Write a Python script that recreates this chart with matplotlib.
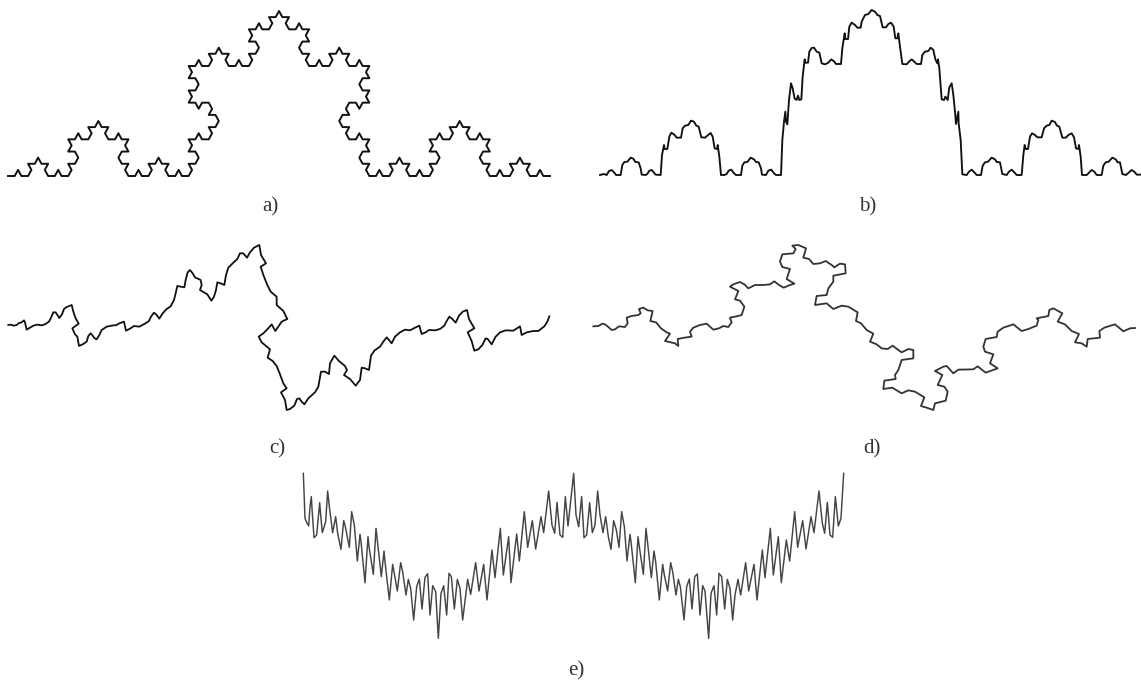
import matplotlib
matplotlib.use("Agg")
import matplotlib.pyplot as plt

W, H = 1141, 681

# curve a, triangular grid units
a_x = [0,2,3,4,6,7,6,8,9,10,12,11,12,14,15,16,18,
       19,18,20,21,20,18,19,18,20,21,22,24,25,24,26,27,
       28,30,29,30,32,33,34,36,35,36,34,33,34,36,35,36,
       38,39,40,42,43,42,44,45,46,48,47,48,50,51,52,54,
       55,54,56,57,56,54,55,54,56,57,58,60,61,60,62,63,
       62,60,61,60,58,57,56,54,55,54,56,57,56,54,55,54,
       56,57,58,60,61,60,62,63,64,66,65,66,68,69,70,72,
       73,72,74,75,74,72,73,72,74,75,76,78,79,78,80,81,
       82,84,83,84,86,87,88,90,89,90,88,87,88,90,89,90,
       92,93,94,96,97,96,98,99,100,102,101,102,104,105,106,108,
       107,108,106,105,106,108,107,108,106,105,104,102,101,102,100,99,
       100,102,101,102,104,105,106,108,107,108,106,105,106,108,107,108,
       110,111,112,114,115,114,116,117,118,120,119,120,122,123,124,126,
       127,126,128,129,128,126,127,126,128,129,130,132,133,132,134,135,
       136,138,137,138,140,141,142,144,143,144,142,141,142,144,143,144,
       146,147,148,150,151,150,152,153,154,156,155,156,158,159,160,162]
a_y = [0,0,1,0,0,1,2,2,3,2,2,1,0,0,1,0,0,
       1,2,2,3,4,4,5,6,6,7,6,6,7,8,8,9,
       8,8,7,6,6,7,6,6,5,4,4,3,2,2,1,0,
       0,1,0,0,1,2,2,3,2,2,1,0,0,1,0,0,
       1,2,2,3,4,4,5,6,6,7,6,6,7,8,8,9,
       10,10,11,12,12,11,12,12,13,14,14,15,16,16,17,18,
       18,19,18,18,19,20,20,21,20,20,19,18,18,19,18,18,
       19,20,20,21,22,22,23,24,24,25,24,24,25,26,26,27,
       26,26,25,24,24,25,24,24,23,22,22,21,20,20,19,18,
       18,19,18,18,19,20,20,21,20,20,19,18,18,19,18,18,
       17,16,16,15,14,14,13,12,12,11,12,12,11,10,10,9,
       8,8,7,6,6,7,6,6,5,4,4,3,2,2,1,0,
       0,1,0,0,1,2,2,3,2,2,1,0,0,1,0,0,
       1,2,2,3,4,4,5,6,6,7,6,6,7,8,8,9,
       8,8,7,6,6,7,6,6,5,4,4,3,2,2,1,0,
       0,1,0,0,1,2,2,3,2,2,1,0,0,1,0,0]

# curve b
b_x = [1800,1812,1820,1827,1835,1843,1848,1862,1867,1873,1882,1892,1900,1906,1916,1922,1925,1937,1942,1948,
       1955,1962,1967,1982,1986,1992,1994,2002,2008,2014,2024,2030,2043,2048,2055,2065,2073,2082,2088,2096,
       2104,2115,2122,2132,2138,2144,2152,2153,2158,2163,2173,2180,2186,2194,2202,2208,2223,2227,2233,2242,
       2252,2262,2268,2276,2283,2286,2298,2305,2314,2322,2328,2343,2347,2352,2356,2358,2362,2367,2373,2378,
       2384,2390,2394,2398,2404,2408,2414,2416,2424,2428,2435,2442,2450,2458,2465,2475,2485,2494,2503,2508,
       2523,2527,2534,2536,2544,2548,2555,2565,2572,2582,
       2585,2595,2605,2615,2625,2632,2640,2648,2658,2665,2673,2681,2686,2692,2695,2700,2707,2720,2727,2735,
       2744,2750,2763,2767,2775,2785,2792,2800,2806,2812,2814,2818,2825,2832,2836,2843,2848,2855,2860,2865,
       2868,2875,2876,2882,2887,2900,2907,2915,2923,2930,2943,2948,2955,2964,2975,2985,2990,3000,3007,3020,
       3027,3035,3043,3050,3065,3070,3074,3077,3084,3090,3096,3105,3112,3125,3132,3140,3148,3155,3165,3170,
       3178,3187,3198,3205,3215,3222,3228,3235,3237,3242,3246,3260,3267,3275,3283,3290,3305,3310,3317,3326,
       3337,3347,3353,3360,3367,3378,3386,3395,3405,3410,3422]
b_y = [525,522,525,513,510,518,525,525,495,486,485,473,476,486,487,505,524,525,522,512,
       510,518,524,525,465,435,447,447,410,398,405,413,413,385,377,375,362,365,376,380,
       412,413,407,399,410,445,447,435,470,525,525,522,512,509,520,525,525,497,487,486,
       473,478,486,487,505,524,525,512,509,520,525,525,420,365,335,365,373,300,250,265,
       296,300,287,300,298,230,178,188,188,155,144,143,155,158,190,193,188,178,185,192,
       192,145,100,117,117,80,68,75,83,83,
       65,45,42,30,35,45,48,82,82,72,68,80,115,115,100,140,192,193,185,178,
       186,192,192,165,155,153,143,150,178,190,178,205,298,300,290,300,262,250,285,335,
       372,335,370,420,523,525,515,509,517,525,525,497,487,485,473,478,486,487,522,525,
       515,509,517,525,525,465,435,447,447,410,400,405,412,412,385,377,375,362,366,376,
       380,413,413,405,400,412,445,447,435,470,525,525,518,510,515,525,525,497,487,485,
       473,478,487,487,522,525,518,510,517,524,524]

# curve c
c_x = [25,33,41,50,57,65,72,75,80,90,100,112,125,135,147,153,160,167,172,178,186,192,200,208,215,220,227,236,228,217,
       225,232,237,248,260,265,272,278,284,290,298,305,320,335,350,358,372,378,390,402,418,435,447,453,462,470,478,488,500,512,
       522,527,532,543,553,557,563,570,578,585,602,605,600,612,622,634,642,648,652,662,673,678,685,700,712,720,730,741,750,762,
       778,783,798,782,790,802,812,830,830,850,862,845,826,815,803,790,776,785,798,810,803,818,830,840,850,860,843,855,860,
       870,883,891,898,905,913,925,945,955,963,975,987,990,1003,1017,1035,1041,1032,1050,1067,1080,1085,1095,1107,1113,1123,1140,1150,1160,1167,
       1175,1185,1200,1215,1230,1245,1258,1265,1277,1287,1305,1320,1333,1340,1348,1357,1367,1377,1388,1401,1407,1423,1403,1415,1423,1435,1447,1457,1463,1475,
       1487,1500,1517,1540,1560,1565,1580,1600,1615,1633,1643,1648]
c_y = [270,269,272,270,264,262,256,262,284,278,272,269,271,268,260,248,232,232,240,249,238,222,216,213,210,230,250,266,272,280,
       298,305,333,328,320,303,295,302,310,313,300,285,275,272,270,265,260,287,281,273,275,266,258,245,233,240,251,235,222,214,
       195,175,153,155,157,135,112,105,115,127,135,150,165,172,178,197,185,165,142,145,150,120,98,83,72,55,55,68,52,38,
       30,60,85,95,120,150,170,185,210,228,252,260,288,268,282,295,305,322,333,343,368,378,393,418,445,460,472,495,525,
       522,512,492,490,500,508,490,472,455,410,410,417,385,362,378,393,405,420,432,452,435,398,400,405,362,347,335,320,307,315,
       325,305,292,284,286,278,272,297,292,285,286,282,272,258,245,252,263,242,230,225,252,280,292,318,347,343,330,310,312,328,
       305,292,286,287,274,300,292,288,288,274,258,244]

# curve d
d_x = [1780,1795,1807,1815,1825,1835,1845,1857,1875,1883,1880,1895,1915,1922,1917,1930,1943,1958,1951,1968,1983,2000,2010,2002,1995,2013,2025,2035,2033,2053,
       2075,2070,2080,2100,2120,2130,2140,2157,2170,2185,2195,2190,2210,2225,2233,2220,2205,2215,2190,2200,2220,2233,2245,2265,2290,2310,2323,2337,2351,2370,
       2383,2360,2370,2347,2340,2347,2380,2387,2377,2395,2418,2410,2427,2440,2460,2477,2495,2503,2520,2535,2537,2500,2500,2485,2480,2450,2445,2480,2500,2525,
       2545,2573,
       2568,2583,2600,2620,2610,2630,2645,2663,2678,2695,2705,2725,2740,2740,2705,2695,2685,2687,2653,2650,2677,2705,2725,2745,2773,2763,2780,2800,2805,2837,
       2843,2833,2813,2827,2805,2830,2840,2860,2875,2920,2933,2957,2993,2970,2980,2955,2950,2957,2990,2993,3010,3040,3065,3085,3110,3115,3110,3145,3148,3160,
       3187,3173,3195,3215,3237,3225,3245,3260,3263,3300,3298,3313,3345,3370,3390,3405]
d_y = [274,273,266,268,276,285,283,274,276,265,248,243,240,235,222,218,226,228,258,262,280,292,296,308,318,322,325,333,312,308,
       305,290,278,270,266,275,284,280,273,276,262,248,244,240,215,197,193,168,155,148,141,148,160,150,150,148,139,150,158,150,
       146,132,102,96,80,58,55,42,32,30,40,68,72,87,85,78,90,97,86,88,115,122,140,160,180,183,210,205,222,212,
       215,232,
       258,265,285,296,320,328,340,342,332,345,352,342,345,370,375,405,420,432,437,462,458,475,466,470,487,513,518,525,505,497,
       470,455,450,420,408,395,393,415,404,403,394,413,400,385,358,350,335,312,306,290,278,268,288,282,272,255,250,243,225,220,
       235,260,268,288,297,322,325,335,312,308,288,278,268,289,280,279]

# curve e
e_x = [910,915,920,926,930,934,936,942,950,957,959,962,967,977,983,988,998,1007,1013,1023,1031,1035,1048,1055,1063,1072,
       1080,1083,1095,1104,1107,1120,1128,1133,1144,1152,1155,1168,1178,1182,1192,1202,1208,1218,1225,1232,1241,1250,1258,1266,1275,1283,
       1290,1298,1307,1315,1323,1331,1340,1347,1354,1363,1372,1380,1388,1403,1412,1427,1437,1451,1461,1476,1485,1501,1510,1526,1533,1550,
       1558,1573,1583,1597,1607,1623,1631,1646,1656,1664,1671,1680,1688,1696,1704,1721,
       1728,1736,1745,1752,1760,1769,1777,1785,1793,1800,1809,1817,1825,1833,1841,1849,1857,1865,1873,1881,1890,1893,1906,1914,1918,1930,
       1938,1943,1954,1962,1967,1978,1988,1993,2003,2012,2018,2028,2035,2041,2052,2060,2068,2076,2084,2092,2100,2108,2115,2126,
       2133,2142,2150,2157,2165,2174,2182,2190,2198,2205,2214,2222,2237,2246,2262,2271,2287,2295,2311,2320,2335,2344,2359,2369,2384,2393,
       2408,2418,2433,2442,2457,2467,2474,2482,2490,2498,2506,2515,2523,2531]
e_y = [25,160,172,183,125,95,130,218,210,135,113,150,203,170,78,125,203,155,205,253,167,180,247,140,180,288,
       208,230,353,215,245,328,190,235,335,258,290,405,298,320,378,293,320,390,343,370,465,365,342,432,337,326,
       450,362,380,520,385,362,450,325,335,432,343,370,465,343,388,293,378,298,405,255,338,190,330,215,353,207,
       288,140,247,167,252,155,203,78,180,205,112,210,217,95,183,25,
       150,185,95,218,210,113,203,180,78,150,203,155,215,253,167,195,247,140,185,288,208,230,353,215,245,328,
       190,235,338,258,290,405,298,330,378,293,320,390,343,365,465,365,342,432,335,327,450,362,378,520,
       385,362,450,325,335,432,343,370,465,390,343,390,293,378,298,405,255,338,190,330,215,353,225,288,140,247,
       167,252,155,203,78,175,205,112,210,217,95,183,160,25]

labels = ["a)", "b)", "c)", "d)", "e)"]

fig = plt.figure(figsize=(W / 100, H / 100), dpi=100, facecolor="white")


def panel(x0, x1, y0, y1, xlim, ylim):
    ax = fig.add_axes([x0 / W, 1 - y1 / H, (x1 - x0) / W, (y1 - y0) / H])
    ax.set_xlim(*xlim)
    ax.set_ylim(*ylim)
    ax.axis("off")
    return ax


ax_a = panel(8, 550, 11, 176, (0, 162), (0, 27))
ax_a.plot(a_x, a_y, color="#111111", lw=1.4, clip_on=False, solid_joinstyle="round")

ax_b = panel(590, 1141, 0, 190, (1770, 3423), (570, 0))
ax_b.plot(b_x, b_y, color="#111111", lw=1.35, clip_on=False, solid_joinstyle="round")

ax_c = panel(0, 560, 235, 425, (0, 1680), (570, 0))
ax_c.plot(c_x, c_y, color="#111111", lw=1.3, clip_on=False, solid_joinstyle="round")

ax_d = panel(585, 1141, 235, 425, (1755, 3423), (570, 0))
ax_d.plot(d_x, d_y, color="#333333", lw=1.3, clip_on=False, solid_joinstyle="round")

ax_e = panel(295, 850, 465, 645, (885, 2550), (540, 0))
ax_e.plot(e_x, e_y, color="#444444", lw=1.05, clip_on=False, solid_joinstyle="round")

label_pos = [(270, 207), (868, 207), (277, 449), (872, 449), (576, 671)]
for lab, (lx, ly) in zip(labels, label_pos):
    fig.text(lx / W, 1 - ly / H, lab, ha="center", va="center",
             family="Liberation Serif", fontsize=15, color="#333333")

fig.savefig("out.png", dpi=100, facecolor="white")
